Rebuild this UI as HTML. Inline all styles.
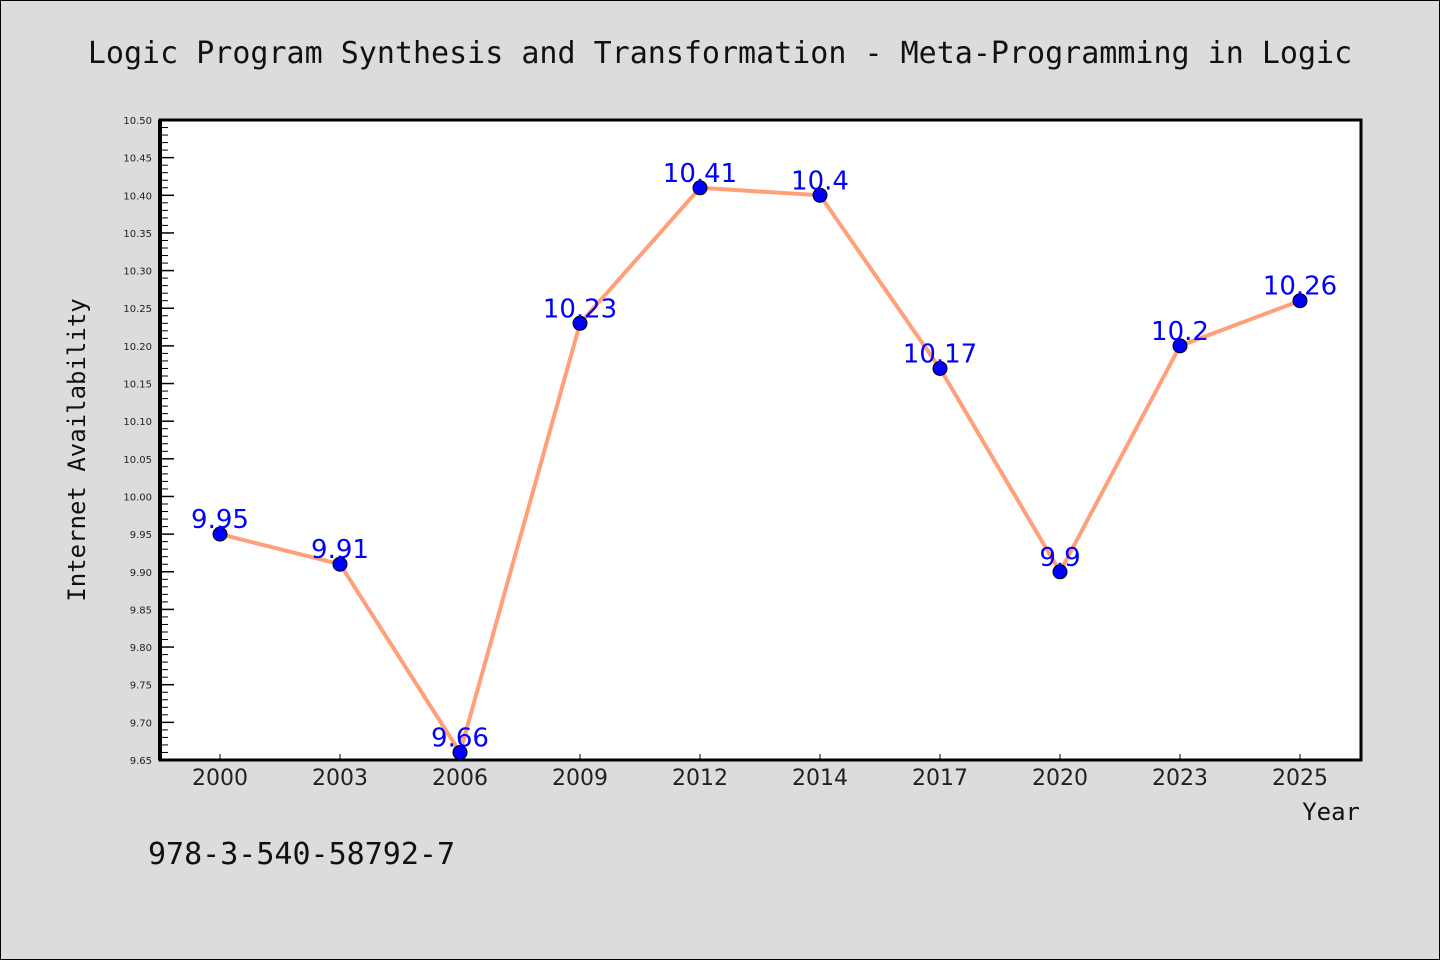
<!DOCTYPE html>
<html><head><meta charset="utf-8"><style>
body{margin:0;background:#dcdcdc;}
svg{display:block;}
</style></head><body>
<svg width="1440" height="960" xmlns="http://www.w3.org/2000/svg">
<rect x="0.5" y="0.5" width="1439" height="959" fill="#dcdcdc" stroke="#000"/>
<text x="720" y="63" text-anchor="middle" font-family="DejaVu Sans Mono, Liberation Mono, monospace" font-size="30" fill="#111">Logic Program Synthesis and Transformation - Meta-Programming in Logic</text>
<rect x="160" y="120" width="1201" height="640" fill="#fff" stroke="#000" stroke-width="3"/>
<g id="axes"></g>
<g id="series"></g>
<text transform="translate(85,450) rotate(-90)" text-anchor="middle" font-family="DejaVu Sans Mono, Liberation Mono, monospace" font-size="24" fill="#111">Internet Availability</text>
<text x="1360" y="820" text-anchor="end" font-family="DejaVu Sans Mono, Liberation Mono, monospace" font-size="24" fill="#111">Year</text>
<text x="148" y="864" font-family="DejaVu Sans Mono, Liberation Mono, monospace" font-size="30" fill="#111">978-3-540-58792-7</text>
</svg>
<script>
const categories=["2000","2003","2006","2009","2012","2014","2017","2020","2023","2025"];
const values=[9.95,9.91,9.66,10.23,10.41,10.4,10.17,9.9,10.2,10.26];
const valueLabels=["9.95","9.91","9.66","10.23","10.41","10.4","10.17","9.9","10.2","10.26"];
const yTicks=[9.65,9.70,9.75,9.80,9.85,9.90,9.95,10.00,10.05,10.10,10.15,10.20,10.25,10.30,10.35,10.40,10.45,10.50];
const NS="http://www.w3.org/2000/svg";
const yMin=9.65,yMax=10.5,plotTop=120,plotBottom=760,plotLeft=160;
function y(v){return plotBottom-(v-yMin)/(yMax-yMin)*(plotBottom-plotTop);}
function x(i){return 220+i*120;}
function mk(t,a,p){const e=document.createElementNS(NS,t);for(const k in a)e.setAttribute(k,a[k]);p.appendChild(e);return e;}
const ax=document.getElementById('axes');
yTicks.forEach((t,i)=>{
  const yy=y(t);
  const tk=mk('line',{x1:plotLeft,x2:plotLeft+14,y1:yy,y2:yy,stroke:'#000','stroke-width':1.5},ax);
  
  
  const lb=mk('text',{x:152,y:yy+4,'text-anchor':'end','font-family':'DejaVu Sans, Liberation Sans, sans-serif','font-size':10,fill:'#222'},ax);
  lb.textContent=t.toFixed(2);
  
  
  if(i<yTicks.length-1){for(let m=1;m<5;m++){const my=y(t+m*0.01);
    const mt=mk('line',{x1:plotLeft,x2:plotLeft+8,y1:my,y2:my,stroke:'#000','stroke-width':1},ax);
    
    }}
});
categories.forEach((c,i)=>{
  const xt=mk('line',{x1:x(i),x2:x(i),y1:plotBottom,y2:plotBottom-6,stroke:'#000','stroke-width':1},ax);
  
  
  const lb=mk('text',{x:x(i),y:785,'text-anchor':'middle','font-family':'DejaVu Sans, Liberation Sans, sans-serif','font-size':22,fill:'#222'},ax);
  lb.textContent=c;
  
  
});
const lft=mk('line',{x1:plotLeft,x2:plotLeft,y1:plotTop,y2:plotBottom,stroke:'#000','stroke-width':4},ax);


const s=document.getElementById('series');
const pl=mk('polyline',{points:values.map((v,i)=>x(i)+','+y(v)).join(' '),fill:'none',stroke:'#ffa07a','stroke-width':4},s);


values.forEach((v,i)=>{
  const c=mk('circle',{cx:x(i),cy:y(v),r:7,fill:'#0000ff',stroke:'#000','stroke-width':1},s);
  
  
});
values.forEach((v,i)=>{
  const t=mk('text',{x:x(i),y:y(v)-6,'text-anchor':'middle','font-family':'DejaVu Sans, Liberation Sans, sans-serif','font-size':26,fill:'#0000ff'},s);
  t.textContent=valueLabels[i];
  
  
});
</script>
</body></html>
